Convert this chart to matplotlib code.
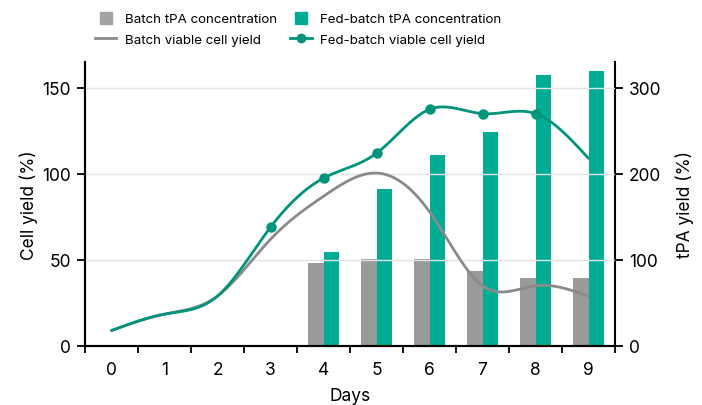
import numpy as np
import matplotlib
matplotlib.use("Agg")
import matplotlib.pyplot as plt
from matplotlib.lines import Line2D

plt.rcParams['font.family'] = ['Inter', 'DejaVu Sans']

# data
days = [0, 1, 2, 3, 4, 5, 6, 7, 8, 9]
day_labels = ['0', '1', '2', '3', '4', '5', '6', '7', '8', '9']
batch_cells = [9, 18.5, 29, 62, 87, 100.5, 78, 35, 35, 29]
fed_cells = [9, 18.5, 29, 69, 97.5, 112, 137.5, 135, 135, 109]
bar_days = [4, 5, 6, 7, 8, 9]
batch_tpa = [96, 101, 101, 87, 79, 79]
fed_tpa = [109, 183, 222, 249, 315, 320]

gray_bar = '#999b9b'
teal_bar = '#00ad94'
gray_line = '#8a8a8a'
teal_line = '#00957a'


def natural_spline(x, y, n=40):
    # natural cubic spline through the points, for a smooth line
    x = np.asarray(x, float)
    y = np.asarray(y, float)
    k = len(x)
    h = np.diff(x)
    A = np.zeros((k, k))
    r = np.zeros(k)
    A[0, 0] = A[-1, -1] = 1
    for i in range(1, k - 1):
        A[i, i - 1] = h[i - 1]
        A[i, i] = 2 * (h[i - 1] + h[i])
        A[i, i + 1] = h[i]
        r[i] = 6 * ((y[i + 1] - y[i]) / h[i] - (y[i] - y[i - 1]) / h[i - 1])
    m = np.linalg.solve(A, r)
    xs, ys = [], []
    for i in range(k - 1):
        t = np.linspace(x[i], x[i + 1], n, endpoint=(i == k - 2))
        a = (x[i + 1] - t) / h[i]
        b = (t - x[i]) / h[i]
        s = (a * y[i] + b * y[i + 1]
             + ((a ** 3 - a) * m[i] + (b ** 3 - b) * m[i + 1]) * h[i] ** 2 / 6)
        xs.append(t)
        ys.append(s)
    return np.concatenate(xs), np.concatenate(ys)


fig = plt.figure(figsize=(7.02, 4.06), dpi=100)
ax = fig.add_axes([85 / 702, 1 - 347 / 406, 530 / 702, 284 / 406])
ax2 = ax.twinx()

# bars on the right axis, drawn beneath the lines
bw = 0.3
ax2.bar(np.array(bar_days) - bw / 2, batch_tpa, width=bw, color=gray_bar, zorder=1)
ax2.bar(np.array(bar_days) + bw / 2, fed_tpa, width=bw, color=teal_bar, zorder=1)
ax2.set_ylim(0, 330)
ax2.set_yticks([0, 100, 200, 300])

# put the lines on top of the bars
ax.set_zorder(ax2.get_zorder() + 1)
ax.patch.set_visible(False)

bx, by = natural_spline(days, batch_cells)
fx, fy = natural_spline(days, fed_cells)
ax.plot(bx, by, color=gray_line, lw=2, solid_capstyle='round')
ax.plot(fx, fy, color=teal_line, lw=2, solid_capstyle='round')
ax.plot(days[3:9], fed_cells[3:9], 'o', color=teal_line, ms=6.5)

ax.set_xlim(-0.5, 9.5)
ax.set_ylim(0, 165)
ax.set_yticks([0, 50, 100, 150])
ax.grid(axis='y', color='#e4e4e4', lw=1)
ax.set_axisbelow(True)

ax.set_xticks(np.arange(-0.5, 10, 1))
ax.set_xticklabels([])
ax.set_xticks(days, minor=True)
ax.set_xticklabels(day_labels, minor=True)
ax.tick_params(axis='x', which='major', length=5, width=1.3, color='black')
ax.tick_params(axis='x', which='minor', length=0, labelsize=12.5, pad=11)
ax.tick_params(axis='y', length=6, width=1.3, labelsize=12.5, pad=4)
ax2.tick_params(axis='y', length=6, width=1.3, labelsize=12.5, pad=4)

for a in (ax, ax2):
    a.spines['top'].set_visible(False)
    for s in a.spines.values():
        s.set_linewidth(1.5)
ax.spines['right'].set_visible(False)

ax.set_xlabel('Days', fontsize=12.5, labelpad=6)
ax.set_ylabel('Cell yield (%)', fontsize=12.5, labelpad=3)
ax2.set_ylabel('tPA yield (%)', fontsize=12.5, labelpad=10)

handles = [
    Line2D([], [], ls='none', marker='s', ms=8.5, color='#a2a4a4'),
    Line2D([], [], color=gray_line, lw=2),
    Line2D([], [], ls='none', marker='s', ms=8.5, color=teal_bar),
    Line2D([], [], color=teal_line, lw=2, marker='o', ms=6),
]
labels = ['Batch tPA concentration', 'Batch viable cell yield',
          'Fed-batch tPA concentration', 'Fed-batch viable cell yield']
fig.legend(handles, labels, ncol=2, loc='upper left', bbox_to_anchor=(0.118, 0.995),
           frameon=False, fontsize=9.6, handlelength=1.6, handletextpad=0.65,
           columnspacing=1.0, labelspacing=0.62)

fig.savefig('out.png', dpi=100)
